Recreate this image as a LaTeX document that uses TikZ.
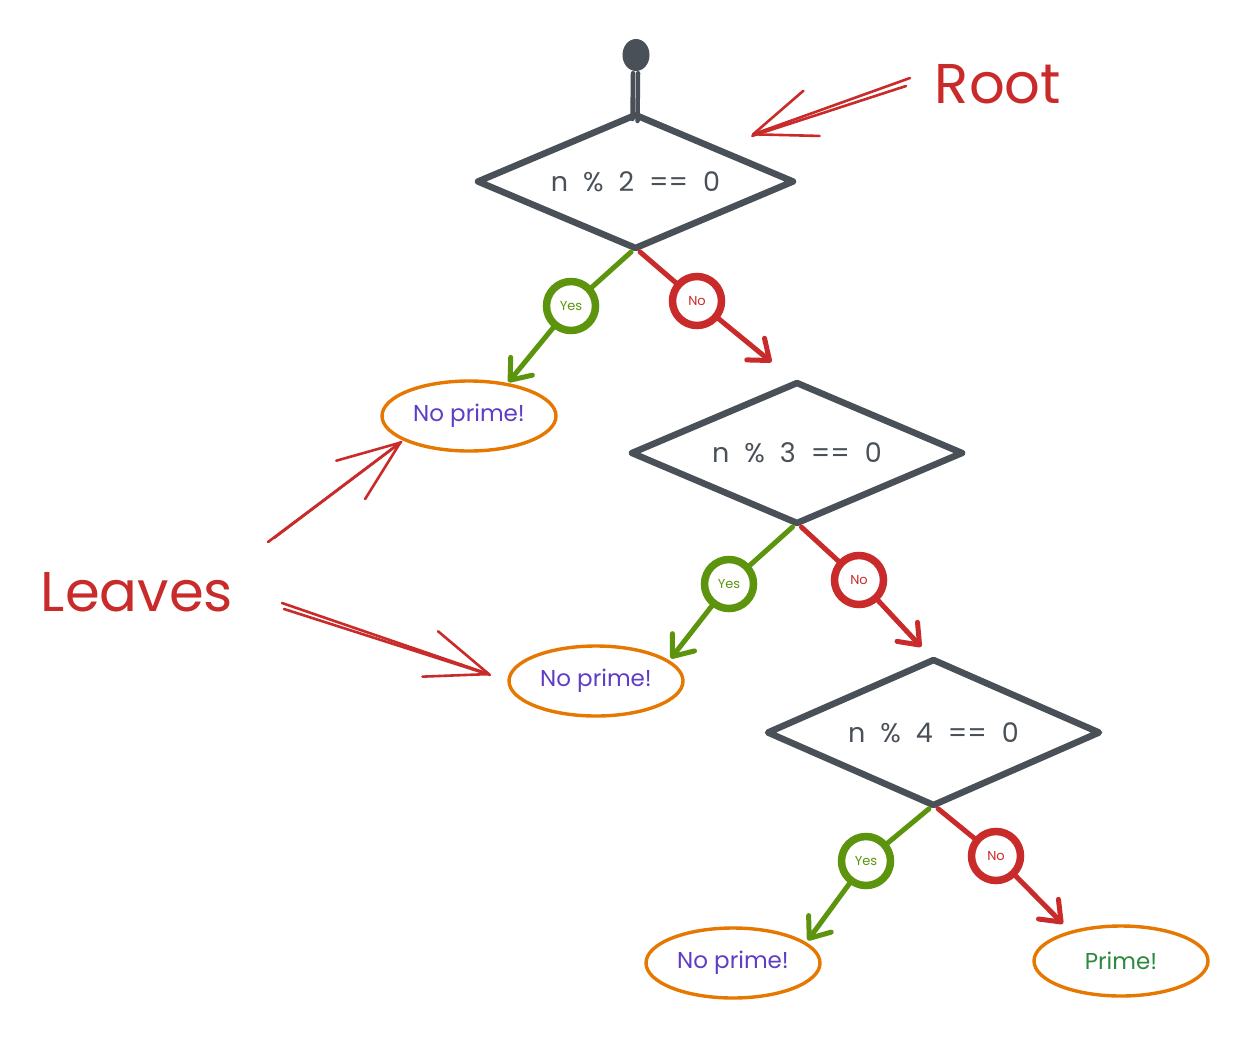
\documentclass[tikz,border=0pt]{standalone}
\usepackage{fontspec}
\setmainfont{Poppins}
\usetikzlibrary{arrows.meta,shapes.geometric}

\definecolor{ink}{HTML}{495057}
\definecolor{yesgreen}{HTML}{5C940D}
\definecolor{nored}{HTML}{C92A2A}
\definecolor{leaforange}{HTML}{E67700}
\definecolor{leafviolet}{HTML}{5F3DC4}
\definecolor{primegreen}{HTML}{2B8A3E}

\newcommand{\tgap}{\hspace{15pt}}

\begin{document}
\begin{tikzpicture}[x=1pt,y=-1pt,
  test/.style={diamond, aspect=2.37, draw=ink, line width=6.5pt, line join=round,
    inner sep=0pt, outer sep=0pt, text=ink,
    font=\fontsize{27}{27}\selectfont},
  branch/.style={circle, line width=7.5pt, fill=white, minimum size=49pt,
    inner sep=0pt, outer sep=0pt, font=\fontsize{13}{13}\selectfont},
  yesbox/.style={branch, draw=yesgreen, text=yesgreen},
  nobox/.style={branch, draw=nored, text=nored},
  leaf/.style={ellipse, draw=leaforange, line width=3.4pt, fill=white,
    minimum width=174pt, minimum height=70pt, inner sep=0pt, outer sep=0pt,
    font=\fontsize{23}{23}\selectfont},
  conn/.style={line width=5pt, line cap=round, line join=round},
  yesline/.style={conn, draw=yesgreen},
  noline/.style={conn, draw=nored},
  tip/.style={-{Straight Barb[length=18pt,width=28pt,round]}},
  note/.style={text=nored, font=\fontsize{56}{56}\selectfont},
  pointer/.style={line width=2.6pt, draw=nored, line cap=round, line join=round},
  bigtip/.style={-{Straight Barb[length=62pt,width=48pt,round]}},
]
% canvas
\useasboundingbox (0,0) rectangle (1246,1052);
\fill[white] (0,0) rectangle (1246,1052);

% start marker
\node[ellipse, fill=ink, minimum width=27pt, minimum height=32pt, inner sep=0pt] (start) at (636,55) {};

% decision nodes
\node[test, minimum width=315pt, minimum height=133pt] (d1) at (635.5,181.5)
  {n\tgap\%\tgap 2\tgap ==\tgap 0};
\node[test, minimum width=330pt, minimum height=140pt] (d2) at (797,453)
  {n\tgap\%\tgap 3\tgap ==\tgap 0};
\node[test, minimum width=331pt, minimum height=145pt] (d3) at (933.5,732.5)
  {n\tgap\%\tgap 4\tgap ==\tgap 0};

% stem into the root test
\draw[ink, line width=4.5pt, line cap=round] ([xshift=-3pt,yshift=-2pt]start.south) -- ([xshift=-3pt,yshift=-4pt]d1.north);
\draw[ink, line width=4.5pt, line cap=round] ([xshift=2pt,yshift=-2pt]start.south) -- ([xshift=2pt,yshift=-6pt]d1.north);

% branch labels
\node[yesbox] (y1) at (571,306) {Yes};
\node[nobox]  (n1) at (697,301) {No};
\node[yesbox] (y2) at (729,584) {Yes};
\node[nobox]  (n2) at (859,580) {No};
\node[yesbox] (y3) at (866,861) {Yes};
\node[nobox]  (n3) at (996,856) {No};

% leaves
\node[leaf, text=leafviolet] (l1) at (469,416) {No prime!};
\node[leaf, text=leafviolet] (l2) at (596,681) {No prime!};
\node[leaf, text=leafviolet] (l3) at (733,963) {No prime!};
\node[leaf, text=primegreen] (l4) at (1121,961) {Prime!};

% yes / no branches
\draw[yesline, shorten <=6pt, shorten >=3pt] (d1.south) -- (y1);
\draw[yesline, tip, shorten >=3pt] (y1) -- (l1.40);
\draw[noline, shorten <=6pt, shorten >=3pt] (d1.south) -- (n1);
\draw[noline, tip, shorten >=33pt] (n1) -- (d2.north);

\draw[yesline, shorten <=6pt, shorten >=3pt] (d2.south) -- (y2);
\draw[yesline, tip, shorten >=4pt] (y2) -- (l2.15);
\draw[noline, shorten <=6pt, shorten >=3pt] (d2.south) -- (n2);
\draw[noline, tip, shorten >=18pt] (n2) -- (d3.north);

\draw[yesline, shorten <=6pt, shorten >=3pt] (d3.south) -- (y3);
\draw[yesline, tip, shorten >=4pt] (y3) -- (l3.15);
\draw[noline, shorten <=6pt, shorten >=3pt] (d3.south) -- (n3);
\draw[noline, tip, shorten >=12pt] (n3) -- (l4.150);

% annotations
\node[note] (root) at (998,84) {Root};
\node[note] (leaves) at (137,592) {Leaves};

\coordinate (rootfrom) at (910,78);
\coordinate (rootfrom2) at (906,86);
\draw[pointer, bigtip, shorten >=40pt] (rootfrom) -- (d1.north east);
\draw[pointer, shorten >=40pt] (rootfrom2) -- (d1.north east);

\coordinate (leavesup) at (268,542);
\coordinate (leavesup2) at (274,538);
\draw[pointer, bigtip, shorten >=4pt] (leavesup) -- (l1.200);
\draw[pointer, shorten >=4pt] (leavesup2) -- (l1.200);

\coordinate (leavesdown) at (282,603);
\coordinate (leavesdown2) at (284,609);
\draw[pointer, bigtip, shorten >=20pt] (leavesdown) -- (l2.west);
\draw[pointer, shorten >=20pt] (leavesdown2) -- (l2.west);
\end{tikzpicture}
\end{document}
